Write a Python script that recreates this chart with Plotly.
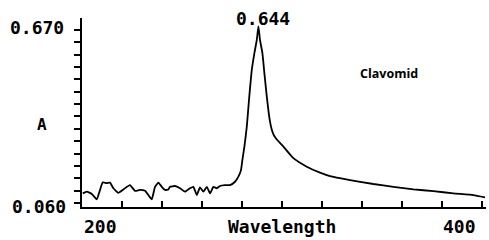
import plotly.graph_objects as go

wavelength = [200.4, 202.4, 204.9, 207.4, 209.0, 210.4, 212.4, 214.0, 215.7, 218.2,
              220.7, 224.0, 226.5, 229.0, 231.5, 233.2, 234.9, 236.5, 238.2, 239.9,
              241.5, 243.2, 244.0, 246.5, 249.0, 251.5, 254.0, 255.7, 257.4, 259.0,
              260.7, 262.4, 264.0, 265.7, 267.4, 269.0, 271.5, 274.0, 276.5, 278.2,
              279.5, 280.2, 281.2, 282.4, 283.5, 284.9, 286.2, 287.4, 288.2, 289.0,
              290.2, 291.2, 292.4, 293.7, 294.9, 296.0, 297.4, 300.7, 305.7, 312.4, 319.0,
              324.0, 334.0, 345.7, 355.7, 365.7, 375.7, 385.7, 395.7, 401.5]
absorbance = [0.094, 0.100, 0.092, 0.073, 0.106, 0.133, 0.130, 0.132, 0.112, 0.096,
              0.108, 0.123, 0.103, 0.106, 0.103, 0.088, 0.073, 0.117, 0.132, 0.117,
              0.106, 0.108, 0.117, 0.120, 0.112, 0.100, 0.112, 0.117, 0.088, 0.115,
              0.100, 0.117, 0.094, 0.117, 0.112, 0.120, 0.123, 0.123, 0.135, 0.153,
              0.176, 0.212, 0.259, 0.329, 0.423, 0.529, 0.588, 0.635, 0.682, 0.635,
              0.588, 0.517, 0.435, 0.360, 0.318, 0.298, 0.284, 0.259, 0.218, 0.188, 0.167,
              0.155, 0.141, 0.127, 0.117, 0.108, 0.102, 0.094, 0.088, 0.080]

y_min_label, y_max_label = 0.060, 0.670
y_label_texts = ["0.060", "0.670"]
peak_label = "0.644"
peak_wl = 288.2
x_tick_labels = [200, 400]
x_ticks = list(range(200, 401, 20))
y_ticks = [y_min_label + i * (y_max_label - y_min_label) / 14 for i in range(15)]
x_title = "Wavelength"
y_title = "A"
sample_name = "Clavomid"

mono = "DejaVu Sans Mono"

fig = go.Figure()
fig.add_trace(go.Scatter(x=wavelength, y=absorbance, mode="lines",
                         line=dict(color="black", width=1.8, shape="spline", smoothing=0.4),
                         hoverinfo="skip"))

fig.update_layout(
    width=489, height=240,
    margin=dict(l=82, r=3, t=18, b=33),
    paper_bgcolor="white", plot_bgcolor="white",
    showlegend=False,
    xaxis=dict(range=[200, 402], showgrid=False, zeroline=False,
               showline=True, linecolor="black", linewidth=2,
               tickmode="array", tickvals=x_ticks, ticks="inside",
               ticklen=6, tickwidth=1.5, tickcolor="black", showticklabels=False),
    yaxis=dict(range=[0.046, 0.712], showgrid=False, zeroline=False,
               showline=True, linecolor="black", linewidth=2,
               tickmode="array", tickvals=y_ticks, ticks="outside",
               ticklen=6, tickwidth=1.5, tickcolor="black", showticklabels=False),
)

fig.add_annotation(xref="paper", yref="y", x=0, y=y_max_label, xshift=-16, yshift=2,
                   text="<b>%s</b>" % y_label_texts[1], showarrow=False,
                   xanchor="right", yanchor="middle",
                   font=dict(family=mono, size=18, color="black"))
fig.add_annotation(xref="paper", yref="y", x=0, y=y_min_label, xshift=-14, yshift=-3,
                   text="<b>%s</b>" % y_label_texts[0], showarrow=False,
                   xanchor="right", yanchor="middle",
                   font=dict(family=mono, size=18, color="black"))
fig.add_annotation(xref="paper", yref="paper", x=0, y=0.434, xshift=-40,
                   text="<b>%s</b>" % y_title, showarrow=False, xanchor="center", yanchor="middle",
                   font=dict(family=mono, size=16, color="black"))
for v in x_tick_labels:
    fig.add_annotation(xref="x", yref="paper", x=v, y=0, yshift=-19,
                       text="<b>%d</b>" % v, showarrow=False,
                       xanchor="left" if v == 200 else "right", yanchor="middle",
                       xshift=0 if v == 200 else -4,
                       font=dict(family=mono, size=18, color="black"))
fig.add_annotation(xref="paper", yref="paper", x=0.5, y=0, yshift=-19, xshift=-2,
                   text="<b>%s</b>" % x_title, showarrow=False, xanchor="center", yanchor="middle",
                   font=dict(family=mono, size=18, color="black"))
fig.add_annotation(xref="x", yref="paper", x=peak_wl, y=1, yshift=0, xshift=5,
                   text="<b>%s</b>" % peak_label, showarrow=False,
                   xanchor="center", yanchor="middle",
                   font=dict(family=mono, size=18, color="black"))
fig.add_annotation(xref="paper", yref="paper", x=(388.5 - 82) / 404, y=0.704,
                   text="<b>%s</b>" % sample_name, showarrow=False,
                   xanchor="center", yanchor="middle",
                   font=dict(family="Open Sans", size=12.5, color="black"))

fig.write_html("out.html")
